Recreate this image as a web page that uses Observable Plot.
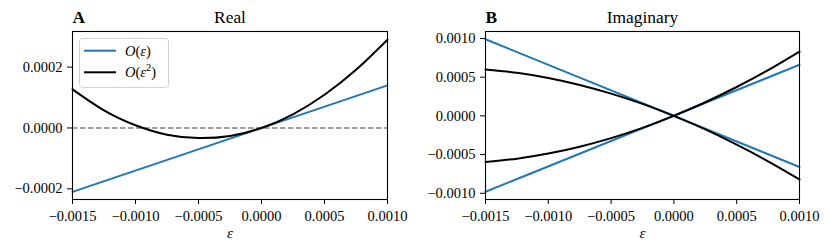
<!DOCTYPE html>
<html>
<head>
<meta charset="utf-8">
<script src="https://cdn.jsdelivr.net/npm/d3@7"></script>
<script src="https://cdn.jsdelivr.net/npm/@observablehq/plot@0.6"></script>
<style>
  html, body { margin: 0; padding: 0; background: #fff; }
  #wrap { display: flex; width: 830px; height: 252px; }
  #wrap svg, #wrap svg text { font-family: 'Liberation Serif', 'DejaVu Serif', serif !important; }
</style>
</head>
<body>
<div id="wrap"></div>
<script>
// ---------- data ----------
const xTicks = [-0.0015, -0.0010, -0.0005, 0.0, 0.0005, 0.0010];
const realYTicks = [-0.0002, 0.0, 0.0002];
const imagYTicks = [-0.0010, -0.0005, 0.0, 0.0005, 0.0010];

// straight first-order lines (endpoints)
const lineEps = [-0.0015, 0.0010];
const realFirst = [-0.00021, 0.00014];
const imagFirstUpper = [0.00099, -0.00066];
const imagFirstLower = [-0.00098, 0.00066];

// second-order curves sampled on a grid
const curveEps = [-0.0015, -0.00125, -0.0010, -0.00075, -0.0005, -0.00025, 0.0, 0.00025, 0.0005, 0.00075, 0.0010];
const realSecond = [0.000127, 0.000058, 0.000009, -0.000022, -0.000033, -0.000026, 0.0, 0.000045, 0.000109, 0.000191, 0.000290];
const imagSecondUpper = [0.000600, 0.000557, 0.000490, 0.000400, 0.000288, 0.000155, 0.0, -0.000175, -0.000371, -0.000586, -0.000820];
const imagSecondLower = [-0.000595, -0.000553, -0.000487, -0.000398, -0.000287, -0.000155, 0.0, 0.000176, 0.000373, 0.000590, 0.000830];

const titles = ["Real", "Imaginary"];
const panelLetters = ["A", "B"];
const legendLabels = ["O(ε)", "O(ε²)"];
const blue = "#1f77b4";
const serif = "'Liberation Serif', 'DejaVu Serif', serif";

const pairs = (xs, ys) => xs.map((x, i) => ({x, y: ys[i]}));
const fmt = d3.format(".4f");

function panel({letter, title, yDomain, yTicks, lines, curves, zeroRule, margins}) {
  const marks = [];
  if (zeroRule) marks.push(Plot.ruleY([0], {stroke: "#808080", strokeWidth: 1.4, strokeDasharray: "5.5,2.5"}));
  for (const l of lines) marks.push(Plot.line(l, {x: "x", y: "y", stroke: blue, strokeWidth: 2}));
  for (const c of curves) marks.push(Plot.line(c, {x: "x", y: "y", stroke: "black", strokeWidth: 2, curve: "natural"}));
  marks.push(Plot.frame({stroke: "black", strokeWidth: 1.1}));
  marks.push(Plot.axisX({ticks: xTicks, tickFormat: fmt, tickSize: 5, tickPadding: 6, label: null, fontSize: 14.5}));
  marks.push(Plot.axisY({ticks: yTicks, tickFormat: fmt, tickSize: 5, tickPadding: 5, label: null, fontSize: 14.5}));
  marks.push(Plot.text([title], {frameAnchor: "top", dy: -9, lineAnchor: "bottom", fontSize: 17.4, fill: "black"}));
  marks.push(Plot.text([letter], {frameAnchor: "top-left", textAnchor: "start", dy: -9, lineAnchor: "bottom", fontSize: 17.4, fontWeight: "bold", fill: "black"}));
  marks.push(Plot.text(["ε"], {frameAnchor: "bottom", dy: 34, lineAnchor: "middle", fontSize: 15, fontStyle: "italic", fill: "black"}));
  return Plot.plot({
    width: 415, height: 252,
    marginLeft: margins[0], marginRight: margins[1], marginTop: 31, marginBottom: 53,
    x: {domain: [-0.0015, 0.0010]},
    y: {domain: yDomain},
    style: {fontFamily: serif, fontSize: "14.5px", color: "black", background: "white", overflow: "visible"},
    marks
  });
}

const left = panel({
  letter: panelLetters[0], title: titles[0],
  yDomain: [-0.000235, 0.000317], yTicks: realYTicks,
  lines: [pairs(lineEps, realFirst)],
  curves: [pairs(curveEps, realSecond)],
  zeroRule: true, margins: [72, 28]
});
const right = panel({
  letter: panelLetters[1], title: titles[1],
  yDomain: [-0.00108, 0.00109], yTicks: imagYTicks,
  lines: [pairs(lineEps, imagFirstUpper), pairs(lineEps, imagFirstLower)],
  curves: [pairs(curveEps, imagSecondUpper), pairs(curveEps, imagSecondLower)],
  zeroRule: false, margins: [70, 31]
});

// legend inside left panel (upper-left)
const svg = d3.select(left);
const lg = svg.append("g").attr("class", "legend").attr("text-anchor", "start");
lg.append("rect").attr("x", 79.5).attr("y", 38.5).attr("width", 89).attr("height", 49)
  .attr("rx", 3).attr("fill", "white").attr("fill-opacity", 0.8).attr("stroke", "#d0d0d0").attr("stroke-width", 1);
const entries = [{label: legendLabels[0], color: blue}, {label: legendLabels[1], color: "black"}];
entries.forEach((e, i) => {
  const cy = 50.7 + i * 21.6;
  lg.append("line").attr("x1", 84).attr("x2", 116).attr("y1", cy).attr("y2", cy).attr("stroke", e.color).attr("stroke-width", 2);
  const t = lg.append("text").attr("x", 125).attr("y", cy + 5).attr("font-size", 14.5)
    .attr("fill", "black").attr("text-anchor", "start").style("font-family", serif);
  const m = e.label.match(/^O\((ε)(²?)\)$/);
  t.append("tspan").attr("font-style", "italic").text("O");
  t.append("tspan").text("(");
  t.append("tspan").attr("font-style", "italic").text(m[1]);
  if (m[2]) t.append("tspan").attr("font-size", 10.5).attr("dy", -6).text("2");
  t.append("tspan").attr("dy", m[2] ? 6 : 0).text(")");
});

document.getElementById("wrap").append(left, right);
</script>
</body>
</html>
